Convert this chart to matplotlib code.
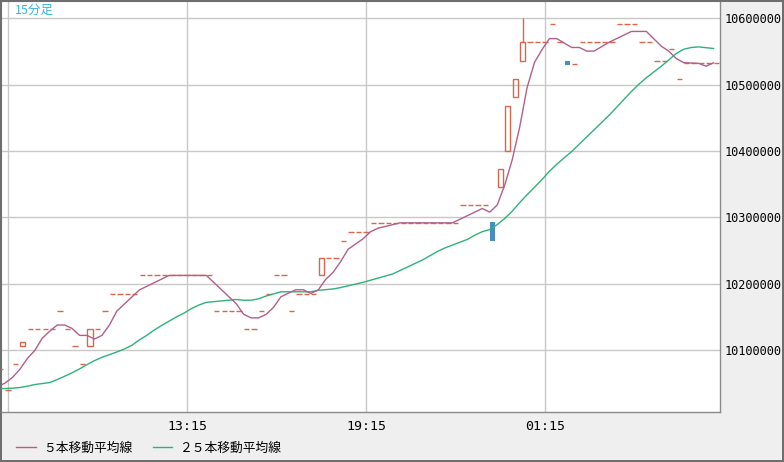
import numpy as np
import pandas as pd
import matplotlib
matplotlib.use("Agg")
import matplotlib.pyplot as plt

# 15 minute bars, first bar at 07:00
start_time = "2024-01-01 07:00"

opens = [10072000, 10040300, 10080000, 10107000, 10132600, 10132600, 10132600, 10132600, 10159600, 10132600,
         10107000, 10080000, 10107000, 10132600, 10159600, 10185200, 10185200, 10185200, 10185200, 10212700,
         10212700, 10212700, 10212700, 10212700, 10212700, 10212700, 10212700, 10212700, 10212700, 10159600,
         10159600, 10159600, 10159600, 10132600, 10132600, 10159600, 10185200, 10212700, 10212700, 10159600,
         10185200, 10185200, 10185200, 10212700, 10239000, 10239000, 10264800, 10278400, 10278400, 10278400,
         10291900, 10291900, 10291900, 10291900, 10291900, 10291900, 10291900, 10291900, 10291900, 10291900,
         10291900, 10291900, 10318900, 10318900, 10318900, 10318900, 10292800, 10346000, 10400000, 10481300,
         10535400, 10563900, 10563900, 10563900, 10591000, 10563900, 10535800, 10530900, 10563900, 10563900,
         10563900, 10563900, 10563900, 10591000, 10591000, 10591000, 10563900, 10563900, 10535400, 10535400,
         10553900, 10508000, 10532800, 10532800, 10532800, 10532800, 10532800]

closes = [10072000, 10040300, 10080000, 10113000, 10132600, 10132600, 10132600, 10132600, 10159600, 10132600,
          10107000, 10080000, 10132600, 10132600, 10159600, 10185200, 10185200, 10185200, 10185200, 10212700,
          10212700, 10212700, 10212700, 10212700, 10212700, 10212700, 10212700, 10212700, 10212700, 10159600,
          10159600, 10159600, 10159600, 10132600, 10132600, 10159600, 10185200, 10212700, 10212700, 10159600,
          10185200, 10185200, 10185200, 10239000, 10239000, 10239000, 10264800, 10278400, 10278400, 10278400,
          10291900, 10291900, 10291900, 10291900, 10291900, 10291900, 10291900, 10291900, 10291900, 10291900,
          10291900, 10291900, 10318900, 10318900, 10318900, 10318900, 10264300, 10373000, 10467700, 10508300,
          10563900, 10563900, 10563900, 10563900, 10591000, 10563900, 10530300, 10530900, 10563900, 10563900,
          10563900, 10563900, 10563900, 10591000, 10591000, 10591000, 10563900, 10563900, 10535400, 10535400,
          10553900, 10508000, 10532800, 10532800, 10532800, 10532800, 10532800]

highs = [10072000, 10040300, 10080000, 10113000, 10132600, 10132600, 10132600, 10132600, 10159600, 10132600,
         10107000, 10080000, 10132600, 10132600, 10159600, 10185200, 10185200, 10185200, 10185200, 10212700,
         10212700, 10212700, 10212700, 10212700, 10212700, 10212700, 10212700, 10212700, 10212700, 10159600,
         10159600, 10159600, 10159600, 10132600, 10132600, 10159600, 10185200, 10212700, 10212700, 10159600,
         10185200, 10185200, 10185200, 10239000, 10239000, 10239000, 10264800, 10278400, 10278400, 10278400,
         10291900, 10291900, 10291900, 10291900, 10291900, 10291900, 10291900, 10291900, 10291900, 10291900,
         10291900, 10291900, 10318900, 10318900, 10318900, 10318900, 10292800, 10373000, 10467700, 10508300,
         10600000, 10563900, 10563900, 10563900, 10591000, 10563900, 10535800, 10530900, 10563900, 10563900,
         10563900, 10563900, 10563900, 10591000, 10591000, 10591000, 10563900, 10563900, 10535400, 10535400,
         10553900, 10508000, 10532800, 10532800, 10532800, 10532800, 10532800]

# closes of the 24 bars before the visible window (needed for the moving averages)
prev_closes = [10037800, 10067500, 10088000, 10082600, 10070100, 10095100, 10095100, 10047100,
               10007600, 9977000, 9935000, 9970100, 9982600, 10034600, 10085200, 10085200,
               10072700, 10047700, 10012700, 10037700, 10013200, 10037700, 10051200, 10051200]

price_ticks = [10100000, 10200000, 10300000, 10400000, 10500000, 10600000]
grid_times = ["07:15", "13:15", "19:15", "01:15"]
time_labels = ["", "13:15", "19:15", "01:15"]
legend_labels = ["５本移動平均線", "２５本移動平均線"]
title_text = "15分足"

RED = "#d9664c"
BLUE = "#4a8cc4"
MAG = "#b25f8b"
GREEN = "#2db27a"

o = np.array(opens, dtype=float)
c = np.array(closes, dtype=float)
h = np.array(highs, dtype=float)
x = np.arange(len(c))
times = pd.date_range(start_time, periods=len(c), freq="15min").strftime("%H:%M").tolist()
tick_pos = [times.index(t) for t in grid_times]

all_closes = pd.Series(prev_closes + closes, dtype=float)
ma5 = all_closes.rolling(5).mean().to_numpy()[len(prev_closes):]
ma25 = all_closes.rolling(25).mean().to_numpy()[len(prev_closes):]

fig = plt.figure(figsize=(7.84, 4.62), dpi=100, facecolor="#efefef")
ax = fig.add_axes([1 / 784, 50 / 462, 719 / 784, 411 / 462])
ax.set_facecolor("white")

flat = o == c
up = c > o
down = c < o
top = np.maximum(o, c)
wick = h > top

ax.hlines(c[flat], x[flat] - 0.36, x[flat] + 0.36, colors=RED, lw=1.0, zorder=3)
ax.bar(x[up], c[up] - o[up], bottom=o[up], width=0.68, facecolor="none", edgecolor=RED, lw=1.0, zorder=3)
ax.bar(x[down], o[down] - c[down], bottom=c[down], width=0.72, color=BLUE, lw=0, zorder=3)
ax.vlines(x[wick], top[wick], h[wick], colors=RED, lw=1.0, zorder=3)

# the averages sit a little left of the candle centres in the original
ma_x = x - 0.4
l25, = ax.plot(ma_x, ma25, color=GREEN, lw=1.0, zorder=4)
l5, = ax.plot(ma_x, ma5, color=MAG, lw=1.0, zorder=5)

ax.set_xlim(0.067, 96.47)
ax.set_ylim(10007000, 10626000)
ax.set_xticks(tick_pos)
ax.set_xticklabels(time_labels)
ax.set_yticks(price_ticks)
ax.set_yticklabels([str(p) for p in price_ticks])
ax.yaxis.tick_right()
ax.grid(True, color="#c8c8c8", lw=1.0, zorder=0)
ax.set_axisbelow(True)
ax.tick_params(axis="both", length=0, labelcolor="black")
ax.tick_params(axis="x", pad=6, labelsize=9.5)
ax.tick_params(axis="y", pad=3, labelsize=8.6)
for lab in ax.get_xticklabels() + ax.get_yticklabels():
    lab.set_family("DejaVu Sans Mono")
for lab in ax.get_yticklabels():
    lab.set_horizontalalignment("left")

for side in ["left", "top"]:
    ax.spines[side].set_color("#6e6e6e")
    ax.spines[side].set_linewidth(1.5)
for side in ["right", "bottom"]:
    ax.spines[side].set_color("#8a8a8a")
    ax.spines[side].set_linewidth(1.0)

ax.text(14 / 719, 1 - 9 / 411, title_text, transform=ax.transAxes, color="#35b5e8",
        fontsize=9, va="center", ha="left", family=["Noto Sans CJK JP", "DejaVu Sans"])

fig.legend([l5, l25], legend_labels, loc="center left", bbox_to_anchor=(16 / 784, 1 - 448 / 462),
           ncol=2, frameon=False, borderpad=0, borderaxespad=0, handlelength=1.55,
           handletextpad=0.55, columnspacing=1.6,
           prop={"family": ["Noto Sans CJK JP", "DejaVu Sans"], "size": 9.2})

fig.patch.set_edgecolor("#6e6e6e")
fig.patch.set_linewidth(1.5)
fig.savefig("out.png", dpi=100, facecolor=fig.get_facecolor(), edgecolor=fig.get_edgecolor())
